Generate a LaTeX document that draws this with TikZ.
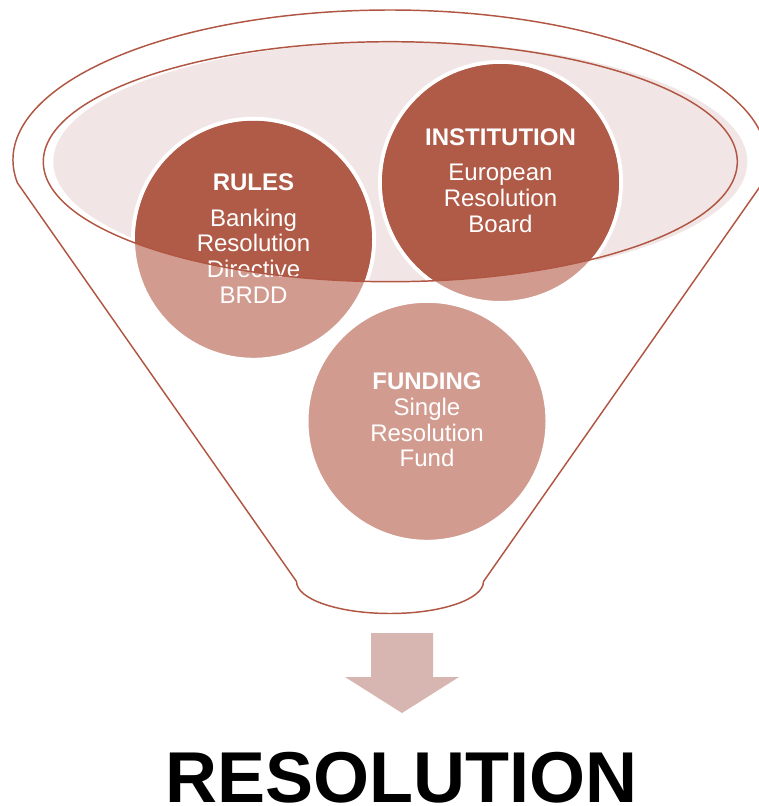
\documentclass[tikz,border=0pt]{standalone}
\usepackage{fontspec}
\setmainfont{Liberation Sans}
\definecolor{rustline}{RGB}{176,86,66}
\definecolor{rustdark}{RGB}{176,91,72}
\definecolor{rustlight}{RGB}{209,156,143}
\definecolor{blush}{RGB}{241,230,229}
\definecolor{arrowpink}{RGB}{215,181,176}
\tikzset{every picture/.style={line width=0.75pt}}
\tikzset{
  pillar/.style={circle, inner sep=0pt, minimum size=180.75pt, fill=rustlight, draw=white, line width=3pt},
  pillartext/.style={text=white, align=center, inner sep=0pt, font=\fontsize{18}{19.3}\selectfont},
  funnelline/.style={draw=rustline, line width=1.1pt}
}

\begin{document}
\begin{tikzpicture}[x=0.75pt,y=0.75pt,yscale=-1,xscale=1]
\useasboundingbox (0,0) rectangle (758,806);
%Shape: Ellipse [fill of the funnel mouth]
\fill[blush] (400.3,161.7) ellipse [x radius=347, y radius=120];
%Shape: Circles
\node[pillar] (rules) at (253.5,239.3) {};
\node[pillar] (inst) at (500.5,182.5) {};
\node[pillar] (fund) at (427,421.3) {};
%Shape: dark part of the circles inside the mouth
\begin{scope}
\clip (390.3,161.7) ellipse [x radius=347, y radius=120];
\fill[rustdark] (rules.center) circle [radius=118.5];
\fill[rustdark] (inst.center) circle [radius=118.5];
\end{scope}
% Text Node
\node[pillartext] (rulestext) at (253.5,238.8) {\textbf{RULES}\\[7.2pt]Banking\\Resolution\\Directive\\BRDD};
% Text Node
\node[pillartext] (insttext) at (500.5,180.3) {\textbf{INSTITUTION}\\[7.4pt]European\\Resolution\\Board};
% Text Node
\node[pillartext] (fundtext) at (427,420) {\textbf{FUNDING}\\Single\\Resolution\\Fund};
%Shape: Ellipse [outline of the funnel mouth]
\draw[funnelline] (390.3,161.7) ellipse [x radius=347, y radius=120];
%Shape: Funnel
\draw[funnelline] (390,160) ++(171.18:377 and 150) arc [start angle=171.18, end angle=368.82, x radius=377, y radius=150] -- (483.5,581.5) arc [start angle=0, end angle=180, x radius=93.5, y radius=32] -- cycle;
%Shape: Block Arrow
\fill[arrowpink] (371,633) -- (433,633) -- (433,677) -- (459,677) -- (402,713) -- (345,677) -- (371,677) -- cycle;
% Text Node
\node[anchor=base, inner sep=0pt, font=\fontsize{54}{60}\selectfont\bfseries] (outcome) at (401.7,802.5) {RESOLUTION};
\end{tikzpicture}
\end{document}
